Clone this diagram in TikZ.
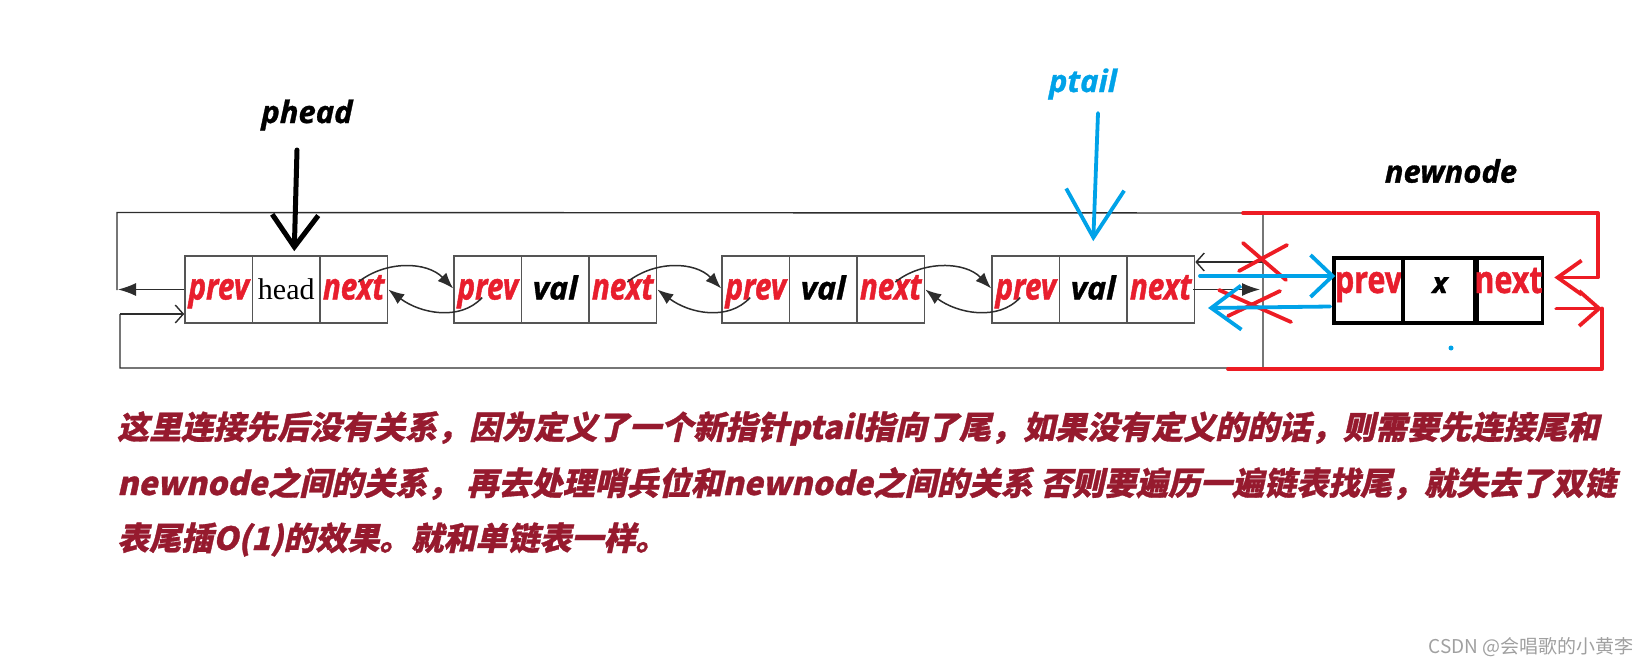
\documentclass[tikz,border=0pt]{standalone}
\usepackage{fontspec}
\usetikzlibrary{arrows.meta,calc}
\newfontfamily\cjkfont[FakeSlant=0.22,FakeBold=1]{Noto Sans CJK SC}
\newfontfamily\cjkplain{Noto Sans CJK SC}
\newfontfamily\labfont[FakeStretch=0.8,FakeBold=1.2]{Open Sans}
\newfontfamily\titlefont[FakeBold=1]{Open Sans}
\newfontfamily\seriffont{Liberation Serif}
\definecolor{cellred}{RGB}{232,30,45}
\definecolor{pred}{RGB}{237,28,36}
\definecolor{pblue}{RGB}{0,162,232}
\definecolor{boxgray}{RGB}{85,85,85}
\definecolor{linegray}{RGB}{45,45,45}
\definecolor{txtred}{RGB}{150,26,46}
\definecolor{wmgray}{RGB}{160,160,160}
\newcommand\redlab[1]{\textcolor{cellred}{\labfont\bfseries\itshape\fontsize{37}{37}\selectfont #1}}
\newcommand\vallab[1]{\textcolor{black}{\titlefont\bfseries\itshape\fontsize{32}{32}\selectfont #1}}
\newcommand\nnlab[1]{\textcolor{cellred}{\labfont\bfseries\fontsize{38}{38}\selectfont #1}}
\begin{document}
\begin{tikzpicture}[x=1pt,y=-1pt,
  cell/.style={draw=boxgray, line width=1.6pt, minimum width=67.5pt, minimum height=67pt,
    inner sep=0pt, text height=28pt, text depth=8pt},
  nncell/.style={draw=black, line width=3.5pt, minimum height=65pt, inner sep=0pt,
    text height=22pt, text depth=17pt},
  conn/.style={draw=linegray, line width=1.4pt},
  curv/.style={draw=linegray, line width=1.5pt, -{Latex[length=16pt,width=12pt]}},
  redl/.style={draw=pred, line width=3.8pt, line cap=round, line join=round},
  bluel/.style={draw=pblue, line width=3.8pt, line cap=round, line join=round},
  title/.style={inner sep=0pt, font=\titlefont\bfseries\itshape\fontsize{31}{31}\selectfont},
  para/.style={anchor=base west, inner sep=0pt, text=txtred,
    font=\cjkfont\bfseries\fontsize{32}{32}\selectfont}]
\useasboundingbox (0,0) rectangle (1651,667);

% ---- list boxes ----
\node[cell] (b1p) at (218.75,289.5) {\redlab{prev}};
\node[cell] (b1h) at (286.25,289.5) {\textcolor{black}{\seriffont\fontsize{30}{30}\selectfont head}};
\node[cell] (b1n) at (353.75,289.5) {\redlab{next}};
\node[cell] (b2p) at (487.75,289.5) {\redlab{prev}};
\node[cell] (b2v) at (555.25,289.5) {\vallab{val}};
\node[cell] (b2n) at (622.75,289.5) {\redlab{next}};
\node[cell] (b3p) at (755.75,289.5) {\redlab{prev}};
\node[cell] (b3v) at (823.25,289.5) {\vallab{val}};
\node[cell] (b3n) at (890.75,289.5) {\redlab{next}};
\node[cell] (b4p) at (1025.75,289.5) {\redlab{prev}};
\node[cell] (b4v) at (1093.25,289.5) {\vallab{val}};
\node[cell] (b4n) at (1160.75,289.5) {\redlab{next}};

% ---- curved links ----
\foreach \i/\j in {1/2,2/3,3/4}{
  \draw[curv] ($(b\i n.east)+(-30,-7.5)$) .. controls +(28,-22) and +(-26,-27) .. ($(b\j p.west)+(0,-1)$);
  \draw[curv] ($(b\j p.west)+(29,8)$) .. controls +(-22,24) and +(32,24) .. (b\i n.east);
}

% ---- outer loop ----
\coordinate (L) at (118,289.5);
\coordinate (TL) at (117,212.5);
\coordinate (TR) at (1263,213);
\coordinate (BR) at (1263,368);
\coordinate (BL) at (120,368);
\coordinate (BLu) at (120,314);
\coordinate (R1) at (1263,262);
\coordinate (R2) at (1260,289.5);
\draw[conn, -{Latex[length=18pt,width=13pt]}] (b1p.west) -- (L);
\draw[conn] (117,290) -- (TL) -- (TR) -- (BR) -- (BL) -- (BLu);
\draw[conn, -{Straight Barb[length=8pt,width=18pt]}] (BLu) -- (BLu -| b1p.west);
\draw[conn, -{Straight Barb[length=8pt,width=18pt]}] (R1) -- (R1 -| b4n.east);
\draw[conn, -{Latex[length=18pt,width=13pt]}] ($(b4n.east)+(-2,0)$) -- (R2);

% ---- new node ----
\node[nncell, minimum width=69pt] (nnp) at (1368.5,290.5) {\nnlab{prev}};
\node[nncell, minimum width=74pt] (nnx) at (1440,290.5) {\textcolor{black}{\titlefont\bfseries\itshape\fontsize{29}{29}\selectfont x}};
\node[nncell, minimum width=63pt] (nnn) at (1508.5,290.5) {\nnlab{next}};
\node[title] (nnlabel) at (1451,171) {newnode};

% red connections
\draw[redl, -{Straight Barb[length=24pt,width=34pt]}] (1243,213) -- (1598,213) -- (1598,277.5) -- ($(nnn.east)+(10,-13)$);
\draw[redl, -{Straight Barb[length=20pt,width=35pt]}] ($(nnn.east)+(12,18)$) -- (1602,308.5);
\draw[redl] (1602,308.5) -- (1602,369) -- (1228,369);
% red crosses
\draw[redl] (1243,243) -- (1286,280);
\draw[redl] (1287,245) -- (1239,271);
\draw[redl] (1219,290) -- (1291,322);
\draw[redl] (1280,291) -- (1228,316);

% blue connections
\draw[bluel, -{Straight Barb[length=22pt,width=42pt]}] (1200,276) -- ($(nnp.west)+(3,-14.5)$);
\draw[bluel, -{Straight Barb[length=30pt,width=44pt]}] ($(nnp.west)+(-2,16)$) -- (1208,308);
\fill[pblue] (1451,348) circle[radius=2.5pt];

% ---- pointers ----
\node[title, text=black] (phead) at (307,115) {phead};
\draw[line width=5pt, line cap=round, black, -{Straight Barb[length=32pt,width=46pt]}] (297,150) -- ($(b1h.north)+(8,-4)$);
\node[title, text=pblue] (ptail) at (1083,84) {ptail};
\draw[bluel, -{Straight Barb[length=48pt,width=58pt]}] (1098,113) -- ($(b4v.north)+(0,-14)$);

% ---- explanation ----
\node[para] (t1) at (117,439) {这里连接先后没有关系，因为定义了一个新指针ptail指向了尾，如果没有定义的的话，则需要先连接尾和};
\node[para] (t2) at (117,495) {newnode之间的关系， 再去处理哨兵位和newnode之间的关系 否则要遍历一遍链表找尾，就失去了双链};
\node[para] (t3) at (117,550) {表尾插O(1)的效果。就和单链表一样。};

\node[text=wmgray, inner sep=0pt, font=\cjkplain\fontsize{19}{19}\selectfont] (wm) at (1531,647) {CSDN @会唱歌的小黄李};
\end{tikzpicture}
\end{document}
